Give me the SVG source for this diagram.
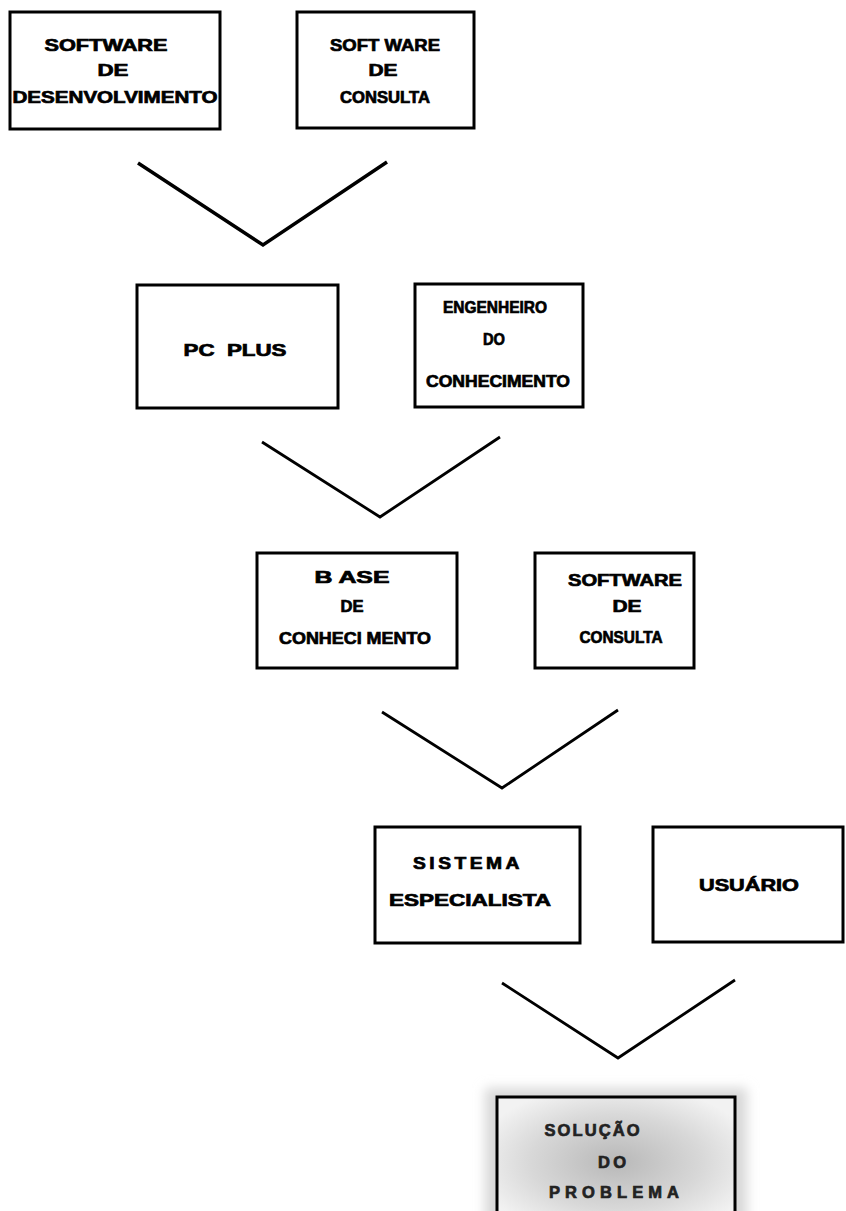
<svg xmlns="http://www.w3.org/2000/svg" width="846" height="1211" viewBox="0 0 846 1211">
<style>
.box{fill:#fff;stroke:#000;stroke-width:3}
.t{font-family:"Liberation Sans",Arial,sans-serif;font-weight:bold;font-size:16.5px;fill:#000;stroke:#000;stroke-width:0.7;text-anchor:middle}
.v{fill:none;stroke:#000;stroke-width:2.8;stroke-linejoin:miter}
.g{font-family:"Liberation Sans",Arial,sans-serif;font-weight:bold;font-size:16.5px;fill:#222;stroke:#222;stroke-width:0.7;text-anchor:middle}
</style>
<defs>
<radialGradient id="halo" cx="0.5" cy="0.5" r="0.6">
<stop offset="0" stop-color="#b8b8b8"/>
<stop offset="0.6" stop-color="#d8d8d8"/>
<stop offset="1" stop-color="#f2f2f2"/>
</radialGradient>
<filter id="blur" x="-20%" y="-20%" width="140%" height="140%"><feGaussianBlur stdDeviation="6"/></filter>
</defs>
<rect width="846" height="1211" fill="#fff"/>
<g id="connectors">
<polyline class="v" points="138,163 263,245 387,162" style="stroke-width:3.5"/>
<polyline class="v" points="262,442 380,517 500,437"/>
<polyline class="v" points="382,712 502,788 618,710"/>
<polyline class="v" points="502,983 618,1058 735,980"/>
</g>
<g id="software-desenvolvimento">
<rect class="box" x="10" y="12" width="210" height="117"/>
<text class="t" x="106" y="51" textLength="123" lengthAdjust="spacingAndGlyphs">SOFTWARE</text>
<text class="t" x="113" y="76" textLength="31" lengthAdjust="spacingAndGlyphs">DE</text>
<text class="t" x="115" y="103" textLength="205" lengthAdjust="spacingAndGlyphs">DESENVOLVIMENTO</text>
</g>
<g id="software-consulta-1">
<rect class="box" x="297" y="12" width="177" height="116"/>
<text class="t" x="385" y="51" textLength="110" lengthAdjust="spacingAndGlyphs">SOFT WARE</text>
<text class="t" x="383" y="76" textLength="29" lengthAdjust="spacingAndGlyphs">DE</text>
<text class="t" x="385" y="103" textLength="90" lengthAdjust="spacingAndGlyphs">CONSULTA</text>
</g>
<g id="pc-plus">
<rect class="box" x="137" y="285" width="201" height="123"/>
<text class="t" x="235" y="356" textLength="103" lengthAdjust="spacingAndGlyphs" xml:space="preserve">PC  PLUS</text>
</g>
<g id="engenheiro">
<rect class="box" x="415" y="284" width="168" height="123"/>
<text class="t" x="495" y="313" textLength="104" lengthAdjust="spacingAndGlyphs">ENGENHEIRO</text>
<text class="t" x="494" y="345" textLength="22" lengthAdjust="spacingAndGlyphs">DO</text>
<text class="t" x="498" y="387" textLength="144" lengthAdjust="spacingAndGlyphs">CONHECIMENTO</text>
</g>
<g id="base-conhecimento">
<rect class="box" x="257" y="553" width="200" height="115"/>
<text class="t" x="352" y="583" textLength="75" lengthAdjust="spacingAndGlyphs">B ASE</text>
<text class="t" x="352" y="612" textLength="23" lengthAdjust="spacingAndGlyphs">DE</text>
<text class="t" x="355" y="644" textLength="152" lengthAdjust="spacingAndGlyphs">CONHECI MENTO</text>
</g>
<g id="software-consulta-2">
<rect class="box" x="535" y="553" width="159" height="115"/>
<text class="t" x="625" y="586" textLength="114" lengthAdjust="spacingAndGlyphs">SOFTWARE</text>
<text class="t" x="627" y="612" textLength="29" lengthAdjust="spacingAndGlyphs">DE</text>
<text class="t" x="621" y="643" textLength="83" lengthAdjust="spacingAndGlyphs">CONSULTA</text>
</g>
<g id="sistema-especialista">
<rect class="box" x="375" y="827" width="205" height="116"/>
<text class="t" x="468" y="869" textLength="110" lengthAdjust="spacingAndGlyphs" style="letter-spacing:3px">SISTEMA</text>
<text class="t" x="470" y="906" textLength="162" lengthAdjust="spacingAndGlyphs">ESPECIALISTA</text>
</g>
<g id="usuario">
<rect class="box" x="653" y="827" width="190" height="115"/>
<text class="t" x="749" y="891" textLength="100" lengthAdjust="spacingAndGlyphs">USUÁRIO</text>
</g>
<g id="solucao-problema">
<rect x="485" y="1088" width="262" height="140" fill="#d8d8d8" filter="url(#blur)"/>
<rect x="497" y="1097" width="238" height="130" fill="url(#halo)" stroke="#000" stroke-width="3"/>
<text class="g" x="592" y="1136" textLength="95" lengthAdjust="spacing">SOLUÇÃO</text>
<text class="g" x="612" y="1168" textLength="28" lengthAdjust="spacing">DO</text>
<text class="g" x="614" y="1198" textLength="130" lengthAdjust="spacing">PROBLEMA</text>
</g>
</svg>
